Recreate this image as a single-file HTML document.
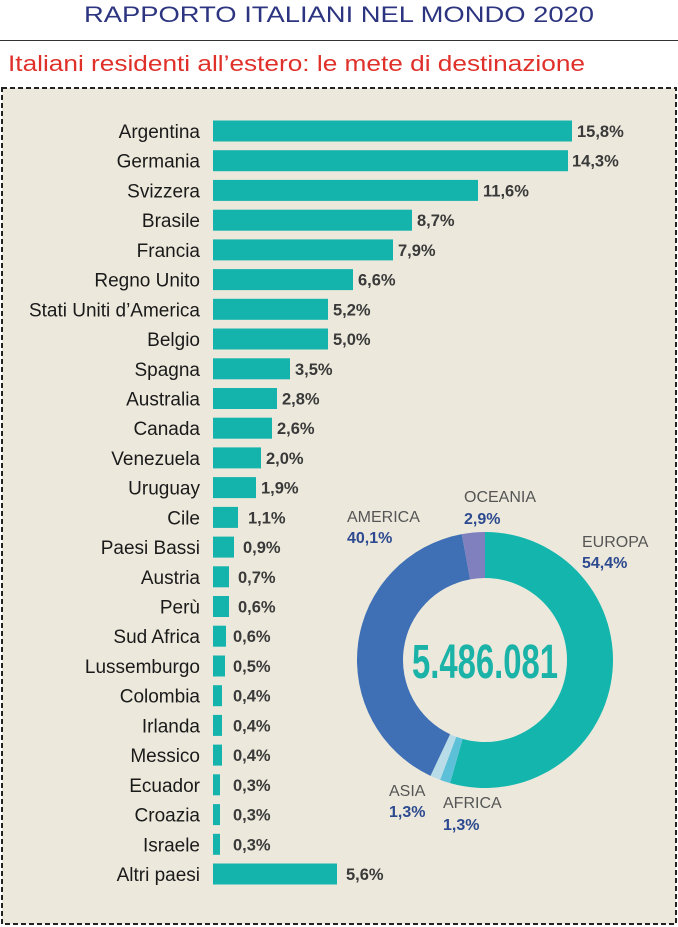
<!DOCTYPE html>
<html><head><meta charset="utf-8"><style>
html,body{margin:0;padding:0;background:#fff;width:678px;height:927px;overflow:hidden}
svg{display:block}
.b text{font-size:19px}
.b text[font-weight]{font-size:16.5px}
</style></head><body>
<svg width="678" height="927" viewBox="0 0 678 927" xmlns="http://www.w3.org/2000/svg" font-family="Liberation Sans, sans-serif">
<rect x="0" y="0" width="678" height="927" fill="#fff"/>
<text x="339" y="22" text-anchor="middle" font-size="22" fill="#2d3580" textLength="510" lengthAdjust="spacingAndGlyphs">RAPPORTO ITALIANI NEL MONDO 2020</text>
<line x1="0" y1="40.5" x2="678" y2="40.5" stroke="#333" stroke-width="1"/>
<text x="8" y="71" font-size="22" fill="#e0302a" textLength="577" lengthAdjust="spacingAndGlyphs">Italiani residenti all’estero: le mete di destinazione</text>
<rect x="2" y="88" width="674" height="836" fill="#ece9dc" stroke="#222" stroke-width="2" stroke-dasharray="5,3"/>
<g class="b" font-size="17" fill="#1a1a1a">
<g transform="translate(0,131)"><text x="200" y="7" text-anchor="end">Argentina</text><rect x="213" y="-10.5" width="359" height="21" fill="#14b3ac"/><text x="577" y="6" font-size="15" font-weight="bold" fill="#3a3a3a">15,8%</text></g>
<g transform="translate(0,160.7)"><text x="200" y="7" text-anchor="end">Germania</text><rect x="213" y="-10.5" width="355" height="21" fill="#14b3ac"/><text x="572" y="6" font-size="15" font-weight="bold" fill="#3a3a3a">14,3%</text></g>
<g transform="translate(0,190.4)"><text x="200" y="7" text-anchor="end">Svizzera</text><rect x="213" y="-10.5" width="265" height="21" fill="#14b3ac"/><text x="483" y="6" font-size="15" font-weight="bold" fill="#3a3a3a">11,6%</text></g>
<g transform="translate(0,220.2)"><text x="200" y="7" text-anchor="end">Brasile</text><rect x="213" y="-10.5" width="199" height="21" fill="#14b3ac"/><text x="417" y="6" font-size="15" font-weight="bold" fill="#3a3a3a">8,7%</text></g>
<g transform="translate(0,249.9)"><text x="200" y="7" text-anchor="end">Francia</text><rect x="213" y="-10.5" width="180" height="21" fill="#14b3ac"/><text x="398" y="6" font-size="15" font-weight="bold" fill="#3a3a3a">7,9%</text></g>
<g transform="translate(0,279.6)"><text x="200" y="7" text-anchor="end">Regno Unito</text><rect x="213" y="-10.5" width="140" height="21" fill="#14b3ac"/><text x="358" y="6" font-size="15" font-weight="bold" fill="#3a3a3a">6,6%</text></g>
<g transform="translate(0,309.3)"><text x="200" y="7" text-anchor="end">Stati Uniti d’America</text><rect x="213" y="-10.5" width="115" height="21" fill="#14b3ac"/><text x="333" y="6" font-size="15" font-weight="bold" fill="#3a3a3a">5,2%</text></g>
<g transform="translate(0,339.0)"><text x="200" y="7" text-anchor="end">Belgio</text><rect x="213" y="-10.5" width="115" height="21" fill="#14b3ac"/><text x="333" y="6" font-size="15" font-weight="bold" fill="#3a3a3a">5,0%</text></g>
<g transform="translate(0,368.8)"><text x="200" y="7" text-anchor="end">Spagna</text><rect x="213" y="-10.5" width="77" height="21" fill="#14b3ac"/><text x="295" y="6" font-size="15" font-weight="bold" fill="#3a3a3a">3,5%</text></g>
<g transform="translate(0,398.5)"><text x="200" y="7" text-anchor="end">Australia</text><rect x="213" y="-10.5" width="64" height="21" fill="#14b3ac"/><text x="282" y="6" font-size="15" font-weight="bold" fill="#3a3a3a">2,8%</text></g>
<g transform="translate(0,428.2)"><text x="200" y="7" text-anchor="end">Canada</text><rect x="213" y="-10.5" width="59" height="21" fill="#14b3ac"/><text x="277" y="6" font-size="15" font-weight="bold" fill="#3a3a3a">2,6%</text></g>
<g transform="translate(0,457.9)"><text x="200" y="7" text-anchor="end">Venezuela</text><rect x="213" y="-10.5" width="48" height="21" fill="#14b3ac"/><text x="266" y="6" font-size="15" font-weight="bold" fill="#3a3a3a">2,0%</text></g>
<g transform="translate(0,487.6)"><text x="200" y="7" text-anchor="end">Uruguay</text><rect x="213" y="-10.5" width="43" height="21" fill="#14b3ac"/><text x="261" y="6" font-size="15" font-weight="bold" fill="#3a3a3a">1,9%</text></g>
<g transform="translate(0,517.4)"><text x="200" y="7" text-anchor="end">Cile</text><rect x="213" y="-10.5" width="25" height="21" fill="#14b3ac"/><text x="248" y="6" font-size="15" font-weight="bold" fill="#3a3a3a">1,1%</text></g>
<g transform="translate(0,547.1)"><text x="200" y="7" text-anchor="end">Paesi Bassi</text><rect x="213" y="-10.5" width="21" height="21" fill="#14b3ac"/><text x="243" y="6" font-size="15" font-weight="bold" fill="#3a3a3a">0,9%</text></g>
<g transform="translate(0,576.8)"><text x="200" y="7" text-anchor="end">Austria</text><rect x="213" y="-10.5" width="16" height="21" fill="#14b3ac"/><text x="238" y="6" font-size="15" font-weight="bold" fill="#3a3a3a">0,7%</text></g>
<g transform="translate(0,606.5)"><text x="200" y="7" text-anchor="end">Perù</text><rect x="213" y="-10.5" width="16" height="21" fill="#14b3ac"/><text x="238" y="6" font-size="15" font-weight="bold" fill="#3a3a3a">0,6%</text></g>
<g transform="translate(0,636.2)"><text x="200" y="7" text-anchor="end">Sud Africa</text><rect x="213" y="-10.5" width="13" height="21" fill="#14b3ac"/><text x="233" y="6" font-size="15" font-weight="bold" fill="#3a3a3a">0,6%</text></g>
<g transform="translate(0,666.0)"><text x="200" y="7" text-anchor="end">Lussemburgo</text><rect x="213" y="-10.5" width="12" height="21" fill="#14b3ac"/><text x="233" y="6" font-size="15" font-weight="bold" fill="#3a3a3a">0,5%</text></g>
<g transform="translate(0,695.7)"><text x="200" y="7" text-anchor="end">Colombia</text><rect x="213" y="-10.5" width="9" height="21" fill="#14b3ac"/><text x="233" y="6" font-size="15" font-weight="bold" fill="#3a3a3a">0,4%</text></g>
<g transform="translate(0,725.4)"><text x="200" y="7" text-anchor="end">Irlanda</text><rect x="213" y="-10.5" width="9" height="21" fill="#14b3ac"/><text x="233" y="6" font-size="15" font-weight="bold" fill="#3a3a3a">0,4%</text></g>
<g transform="translate(0,755.1)"><text x="200" y="7" text-anchor="end">Messico</text><rect x="213" y="-10.5" width="9" height="21" fill="#14b3ac"/><text x="233" y="6" font-size="15" font-weight="bold" fill="#3a3a3a">0,4%</text></g>
<g transform="translate(0,784.8)"><text x="200" y="7" text-anchor="end">Ecuador</text><rect x="213" y="-10.5" width="7" height="21" fill="#14b3ac"/><text x="233" y="6" font-size="15" font-weight="bold" fill="#3a3a3a">0,3%</text></g>
<g transform="translate(0,814.6)"><text x="200" y="7" text-anchor="end">Croazia</text><rect x="213" y="-10.5" width="7" height="21" fill="#14b3ac"/><text x="233" y="6" font-size="15" font-weight="bold" fill="#3a3a3a">0,3%</text></g>
<g transform="translate(0,844.3)"><text x="200" y="7" text-anchor="end">Israele</text><rect x="213" y="-10.5" width="7" height="21" fill="#14b3ac"/><text x="233" y="6" font-size="15" font-weight="bold" fill="#3a3a3a">0,3%</text></g>
<g transform="translate(0,874.0)"><text x="200" y="7" text-anchor="end">Altri paesi</text><rect x="213" y="-10.5" width="124" height="21" fill="#14b3ac"/><text x="346" y="6" font-size="15" font-weight="bold" fill="#3a3a3a">5,6%</text></g>
</g>
<g transform="translate(485,660)">
<path id="d0" fill="#14b5ad"/><path id="d1" fill="#5bc0d8"/><path id="d2" fill="#b8dde8"/><path id="d3" fill="#3f6fb5"/><path id="d4" fill="#8080bf"/>
</g>
<text x="485" y="678" text-anchor="middle" font-size="48" font-weight="bold" fill="#1bb3a8" textLength="146" lengthAdjust="spacingAndGlyphs">5.486.081</text>
<g font-size="16">
<text x="464" y="502" fill="#555">OCEANIA</text><text x="464" y="524" fill="#2d4a90" font-weight="bold">2,9%</text>
<text x="347" y="522" fill="#555">AMERICA</text><text x="347" y="543" fill="#2d4a90" font-weight="bold">40,1%</text>
<text x="582" y="547" fill="#555">EUROPA</text><text x="582" y="568" fill="#2d4a90" font-weight="bold">54,4%</text>
<text x="389" y="796" fill="#555">ASIA</text><text x="389" y="817" fill="#2d4a90" font-weight="bold">1,3%</text>
<text x="443" y="808" fill="#555">AFRICA</text><text x="443" y="830" fill="#2d4a90" font-weight="bold">1,3%</text>
</g>
<script>
var v=[54.4,1.3,1.3,40.1,2.9],R=128,r=82,a=0;
function p(t,rad){return [rad*Math.sin(t),-rad*Math.cos(t)];}
v.forEach(function(x,i){var a0=a,a1=a+x/100*2*Math.PI;a=a1;var L=(a1-a0)>Math.PI?1:0;
var o0=p(a0,R),o1=p(a1,R),i1=p(a1,r),i0=p(a0,r);
document.getElementById("d"+i).setAttribute("d","M"+o0+" A"+R+" "+R+" 0 "+L+" 1 "+o1+" L"+i1+" A"+r+" "+r+" 0 "+L+" 0 "+i0+" Z");});
</script>
</svg>
</body></html>
